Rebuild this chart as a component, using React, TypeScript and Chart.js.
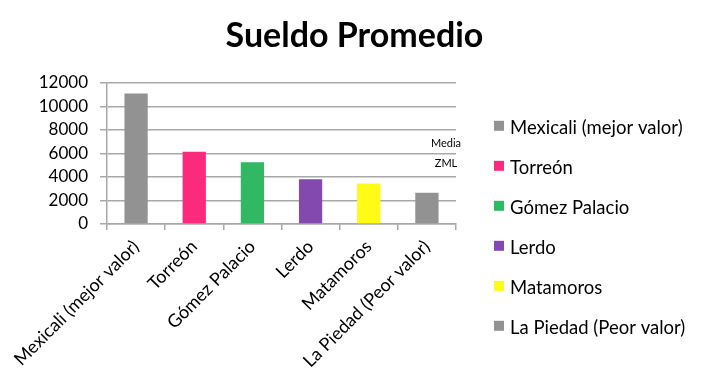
import React, { useEffect, useRef } from "react";
import { Chart, registerables } from "chart.js";

Chart.register(...registerables);

const titleText = "Sueldo Promedio";
const categories = [
  "Mexicali (mejor valor)",
  "Torreón",
  "Gómez Palacio",
  "Lerdo",
  "Matamoros",
  "La Piedad (Peor valor)",
];
const values = [11100, 6150, 5250, 3800, 3450, 2650];
const colors = ["#929292", "#fc2a7c", "#30b862", "#8449ae", "#fffa16", "#929292"];
const yTicks = [0, 2000, 4000, 6000, 8000, 10000, 12000];
const noteValue = 6000;
const noteLabels = ["Media", "ZML"];

const FONT = "Lato, 'Open Sans', sans-serif";

const notePlugin = {
  id: "notes",
  afterDatasetsDraw(chart: any) {
    const { ctx, chartArea, scales } = chart;
    const y = scales.y.getPixelForValue(noteValue);
    const x = chartArea.right - 10;
    ctx.save();
    ctx.font = `11px ${FONT}`;
    ctx.fillStyle = "#000";
    ctx.textAlign = "center";
    ctx.textBaseline = "middle";
    ctx.fillText(noteLabels[0], x, y - 10);
    ctx.fillText(noteLabels[1], x, y + 10);
    ctx.restore();
  },
};

const legendPlugin = {
  id: "sideLegend",
  afterDraw(chart: any) {
    const { ctx, chartArea } = chart;
    const x0 = chartArea.right + 38;
    const y0 = chartArea.top + 45;
    ctx.save();
    ctx.font = `18.5px ${FONT}`;
    ctx.textAlign = "left";
    ctx.textBaseline = "middle";
    categories.forEach((c, i) => {
      const y = y0 + i * 40;
      ctx.fillStyle = colors[i];
      ctx.fillRect(x0, y - 7, 10, 10);
      ctx.fillStyle = "#000";
      ctx.fillText(c, x0 + 16, y);
    });
    ctx.restore();
  },
};

export default function App() {
  const ref = useRef<HTMLCanvasElement>(null);
  useEffect(() => {
    const chart = new Chart(ref.current!, {
      type: "bar",
      data: {
        labels: categories,
        datasets: [
          {
            label: titleText,
            data: values,
            backgroundColor: colors,
            borderWidth: 0,
            barPercentage: 0.4,
            categoryPercentage: 1,
          },
        ],
      },
      options: {
        animation: false,
        responsive: false,
        maintainAspectRatio: false,
        layout: { padding: 0 },
        plugins: {
          tooltip: { enabled: false },
          legend: { display: false },
          title: {
            display: true,
            text: titleText,
            color: "#000",
            font: { family: FONT, size: 34, weight: "bold" },
            padding: { top: 16, bottom: 26 },
          },
        },
        scales: {
          x: {
            afterFit: (s: any) => {
              s.height = 168;
            },
            grid: {
              offset: true,
              drawOnChartArea: false,
              tickLength: 6,
              color: "#a8a8a8",
              lineWidth: 1.5,
            },
            border: { color: "#a8a8a8", width: 1.5 },
            ticks: {
              color: "#000",
              font: { family: FONT, size: 18 },
              minRotation: 45,
              maxRotation: 45,
              padding: 6,
              autoSkip: false,
            },
          },
          y: {
            min: 0,
            max: 12000,
            afterFit: (s: any) => {
              s.width = 107;
            },
            afterBuildTicks: (s: any) => {
              s.ticks = yTicks.map((v) => ({ value: v }));
            },
            grid: { color: "#a8a8a8", lineWidth: 1.5, tickLength: 7 },
            border: { color: "#a8a8a8", width: 1.5 },
            ticks: {
              color: "#000",
              font: { family: FONT, size: 17 },
              padding: 12,
              callback: (v: any) => String(v),
            },
          },
          pad: {
            type: "linear",
            position: "right",
            display: true,
            afterFit: (s: any) => {
              s.width = 253;
            },
            grid: { display: false },
            border: { display: false },
            ticks: { display: false },
          },
        },
      },
      plugins: [notePlugin, legendPlugin],
    } as any);
    return () => chart.destroy();
  }, []);
  return (
    <div style={{ position: "fixed", left: 0, top: 0, width: 709, height: 392, background: "#fff" }}>
      <canvas ref={ref} width={709} height={392} style={{ width: 709, height: 392, display: "block" }} />
    </div>
  );
}
